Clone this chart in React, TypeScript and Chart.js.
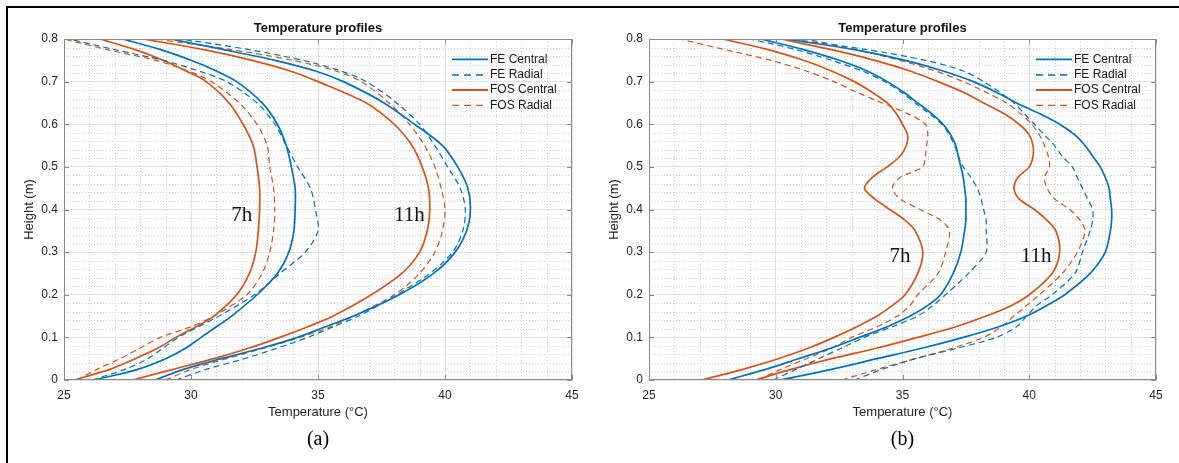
import { useEffect, useRef } from "react";
import { Chart, registerables } from "chart.js";

Chart.register(...registerables);

// ---- axes ----
const xTicks = [25, 30, 35, 40, 45];
const yTicks = [0, 0.1, 0.2, 0.3, 0.4, 0.5, 0.6, 0.7, 0.8];

// ---- legend / series styling ----
const seriesNames = ["FE Central", "FE Radial", "FOS Central", "FOS Radial"];
const BLUE = "#0072BD";
const ORANGE = "#D95319";
const seriesColors = [BLUE, BLUE, ORANGE, ORANGE];
const seriesDashed = [false, true, false, true];

// ---- (a) temperature profiles, height (m) -> temperature (°C) ----
const heightsA = [0, 0.025, 0.05, 0.075, 0.1, 0.125, 0.15, 0.2, 0.25, 0.3, 0.35, 0.4, 0.45, 0.5, 0.55, 0.6, 0.65, 0.7, 0.725, 0.75, 0.775, 0.8];
const aFeCentral7 = [26.2, 27.9, 29.0, 29.8, 30.4, 31.0, 31.6, 32.6, 33.4, 33.85, 34.05, 34.1, 34.1, 33.95, 33.75, 33.4, 32.8, 31.8, 31.0, 30.0, 28.8, 27.3];
const aFeRadial7 = [26.1, 27.4, 28.3, 28.9, 29.5, 30.3, 31.1, 32.5, 33.5, 34.5, 35.0, 34.9, 34.7, 34.2, 33.75, 33.3, 32.6, 31.4, 30.3, 28.9, 27.0, 25.2];
const aFosCentral7 = [25.4, 26.8, 27.8, 28.7, 29.4, 30.2, 30.9, 31.8, 32.3, 32.55, 32.65, 32.7, 32.7, 32.6, 32.45, 32.05, 31.5, 30.6, 29.8, 28.9, 27.8, 26.4];
const aFosRadial7 = [25.5, 26.3, 27.2, 28.0, 28.8, 30.0, 30.9, 32.2, 32.8, 33.1, 33.25, 33.3, 33.25, 33.1, 33.0, 32.6, 31.9, 30.8, 29.9, 28.6, 26.7, 25.0];
const aFeCentral11 = [28.6, 29.7, 31.2, 32.8, 34.2, 35.3, 36.4, 38.2, 39.55, 40.4, 40.85, 41.0, 40.9, 40.5, 39.9, 38.8, 37.6, 36.0, 34.9, 33.3, 31.3, 29.2];
const aFeRadial11 = [29.4, 30.6, 32.1, 33.4, 34.6, 35.6, 36.6, 38.1, 39.4, 40.3, 40.7, 40.8, 40.6, 40.1, 39.6, 39.0, 38.1, 36.9, 35.9, 34.4, 32.3, 29.6];
const aFosCentral11 = [27.7, 29.3, 30.9, 32.3, 33.5, 34.6, 35.6, 37.1, 38.3, 39.0, 39.3, 39.4, 39.35, 39.1, 38.7, 38.0, 36.9, 35.0, 33.9, 32.4, 30.5, 28.1];
const aFosRadial11 = [29.0, 30.0, 31.4, 32.9, 34.3, 35.5, 36.4, 38.0, 39.0, 39.6, 39.9, 40.0, 39.85, 39.6, 39.2, 38.6, 37.8, 36.7, 35.7, 34.0, 31.6, 28.6];

// ---- (b) temperature profiles ----
const heightsB = [0, 0.025, 0.05, 0.075, 0.1, 0.125, 0.15, 0.175, 0.2, 0.25, 0.3, 0.35, 0.375, 0.4, 0.425, 0.45, 0.475, 0.5, 0.525, 0.55, 0.575, 0.6, 0.625, 0.65, 0.675, 0.7, 0.725, 0.75, 0.775, 0.8];
const bFeCentral7 = [28.1, 29.6, 30.9, 32.2, 33.3, 34.4, 35.3, 36.0, 36.5, 37.0, 37.3, 37.45, 37.5, 37.5, 37.5, 37.45, 37.4, 37.3, 37.2, 37.1, 36.9, 36.6, 36.15, 35.6, 35.05, 34.4, 33.6, 32.5, 31.1, 29.4];
const bFeRadial7 = [29.9, 30.8, 31.7, 32.6, 33.5, 34.6, 35.6, 36.2, 36.7, 37.6, 38.3, 38.3, 38.3, 38.2, 38.1, 37.95, 37.7, 37.4, 37.2, 37.05, 36.85, 36.55, 36.05, 35.5, 34.95, 34.3, 33.4, 32.2, 30.8, 29.0];
const bFosCentral7 = [27.1, 28.7, 30.1, 31.3, 32.3, 33.2, 34.0, 34.6, 35.1, 35.6, 35.8, 35.5, 35.1, 34.5, 33.9, 33.5, 33.8, 34.4, 34.9, 35.15, 35.2, 35.0, 34.75, 34.4, 33.8, 33.1, 32.2, 31.1, 29.7, 27.9];
const bFosRadial7 = [29.3, 30.2, 31.2, 32.2, 33.0, 34.0, 34.8, 35.3, 35.6, 36.4, 36.7, 36.85, 36.5, 35.7, 34.9, 34.6, 34.9, 35.8, 35.9, 35.95, 36.0, 35.9, 35.2, 34.2, 33.2, 32.3, 31.2, 29.8, 28.0, 26.2];
const bFeCentral11 = [30.2, 32.2, 34.0, 35.8, 37.4, 38.8, 39.9, 40.7, 41.4, 42.4, 43.0, 43.2, 43.25, 43.25, 43.2, 43.15, 43.0, 42.8, 42.5, 42.2, 41.8, 41.2, 40.4, 39.5, 38.7, 37.8, 36.6, 35.1, 33.1, 30.4];
const bFeRadial11 = [33.1, 34.2, 35.5, 37.2, 38.7, 39.5, 39.9, 40.3, 40.9, 41.8, 42.1, 42.4, 42.5, 42.5, 42.3, 42.1, 41.9, 41.7, 41.3, 41.0, 40.6, 40.2, 39.8, 39.4, 38.85, 38.2, 37.4, 35.9, 33.6, 30.6];
const bFosCentral11 = [29.2, 30.6, 32.2, 34.0, 35.6, 37.1, 38.3, 39.3, 40.0, 40.9, 41.2, 41.05, 40.7, 40.2, 39.6, 39.4, 39.55, 40.0, 40.15, 40.15, 40.0, 39.6, 39.0, 38.2, 37.4, 36.4, 35.3, 33.9, 32.2, 30.2];
const bFosRadial11 = [32.6, 34.0, 35.5, 37.0, 38.2, 38.9, 39.4, 39.9, 40.4, 41.3, 41.9, 42.2, 42.0, 41.6, 41.0, 40.7, 40.6, 40.8, 40.75, 40.6, 40.4, 40.1, 39.65, 39.1, 38.3, 37.4, 36.3, 34.9, 33.2, 31.2];

const SANS = '"Liberation Sans", Arial, Helvetica, sans-serif';
const SERIF = '"Liberation Serif", "Times New Roman", serif';
const TEXT = "#262626";
const GRID = "#e2e2e2";
const MINOR = "#cfcfcf";
const BOX = "#8a8a8a";

type Note = { text: string; t: number; h: number };
type PanelSpec = {
  caption: string;
  heights: number[];
  profiles: number[][];
  notes: Note[];
};

const panelA: PanelSpec = {
  caption: "(a)",
  heights: heightsA,
  profiles: [aFeCentral7, aFeRadial7, aFosCentral7, aFosRadial7, aFeCentral11, aFeRadial11, aFosCentral11, aFosRadial11],
  notes: [
    { text: "7h", t: 32.0, h: 0.386 },
    { text: "11h", t: 38.6, h: 0.386 },
  ],
};

const panelB: PanelSpec = {
  caption: "(b)",
  heights: heightsB,
  profiles: [bFeCentral7, bFeRadial7, bFosCentral7, bFosRadial7, bFeCentral11, bFeRadial11, bFosCentral11, bFosRadial11],
  notes: [
    { text: "7h", t: 34.9, h: 0.29 },
    { text: "11h", t: 40.27, h: 0.29 },
  ],
};

function buildDatasets(p: PanelSpec) {
  return p.profiles.map((temps, i) => {
    const k = i % 4;
    return {
      label: `${seriesNames[k]} ${i < 4 ? "7h" : "11h"}`,
      data: temps.map((t, j) => ({ x: t, y: p.heights[j] })),
      showLine: true,
      borderColor: seriesColors[k],
      backgroundColor: seriesColors[k],
      borderWidth: seriesDashed[k] ? 1.2 : 1.7,
      borderDash: seriesDashed[k] ? [6, 4] : [],
      pointRadius: 0,
      tension: 0.3,
      fill: false,
    };
  });
}

function decorations(p: PanelSpec) {
  return {
    id: "decorations",
    beforeDatasetsDraw(chart: any) {
      const { ctx, chartArea: a, scales } = chart;
      const x = scales.x;
      const y = scales.y;
      ctx.save();
      ctx.strokeStyle = MINOR;
      ctx.lineWidth = 1;
      ctx.setLineDash([1, 2]);
      for (let t = 26; t < 45; t++) {
        if (t % 5 === 0) continue;
        const px = Math.round(x.getPixelForValue(t)) + 0.5;
        ctx.beginPath();
        ctx.moveTo(px, a.top);
        ctx.lineTo(px, a.bottom);
        ctx.stroke();
      }
      for (let k = 1; k < 40; k++) {
        if (k % 5 === 0) continue;
        const py = Math.round(y.getPixelForValue(k * 0.02)) + 0.5;
        ctx.beginPath();
        ctx.moveTo(a.left, py);
        ctx.lineTo(a.right, py);
        ctx.stroke();
      }
      ctx.restore();
    },
    afterDraw(chart: any) {
      const { ctx, chartArea: a, scales } = chart;
      const x = scales.x;
      const y = scales.y;
      ctx.save();

      // axes box with inward ticks
      ctx.strokeStyle = BOX;
      ctx.lineWidth = 1;
      ctx.setLineDash([]);
      ctx.strokeRect(Math.round(a.left) + 0.5, Math.round(a.top) + 0.5, Math.round(a.right - a.left) - 1, Math.round(a.bottom - a.top) - 1);
      ctx.beginPath();
      xTicks.forEach((v) => {
        const px = Math.round(x.getPixelForValue(v)) + 0.5;
        ctx.moveTo(px, a.bottom);
        ctx.lineTo(px, a.bottom - 5);
        ctx.moveTo(px, a.top);
        ctx.lineTo(px, a.top + 5);
      });
      yTicks.forEach((v) => {
        const py = Math.round(y.getPixelForValue(v)) + 0.5;
        ctx.moveTo(a.left, py);
        ctx.lineTo(a.left + 5, py);
        ctx.moveTo(a.right, py);
        ctx.lineTo(a.right - 5, py);
      });
      ctx.stroke();

      // legend
      ctx.font = `12px ${SANS}`;
      ctx.textAlign = "left";
      ctx.textBaseline = "middle";
      const rows = [20.3, 36, 51, 66.3];
      seriesNames.forEach((name, k) => {
        const ry = a.top + rows[k];
        ctx.strokeStyle = seriesColors[k];
        ctx.lineWidth = seriesDashed[k] ? 1.3 : 1.8;
        ctx.setLineDash(seriesDashed[k] ? [7, 5] : []);
        ctx.beginPath();
        ctx.moveTo(a.right - 120, ry);
        ctx.lineTo(a.right - 84, ry);
        ctx.stroke();
        ctx.fillStyle = "#1a1a1a";
        ctx.fillText(name, a.right - 82, ry);
      });
      ctx.setLineDash([]);

      // hour annotations
      ctx.font = `21px ${SERIF}`;
      ctx.fillStyle = "#111";
      ctx.textAlign = "center";
      ctx.textBaseline = "middle";
      p.notes.forEach((n) => {
        ctx.fillText(n.text, x.getPixelForValue(n.t), y.getPixelForValue(n.h));
      });

      const cx = (a.left + a.right) / 2;
      // title
      ctx.fillStyle = "#111";
      ctx.font = `bold 13px ${SANS}`;
      ctx.fillText("Temperature profiles", cx, 28);
      // axis titles
      ctx.fillStyle = TEXT;
      ctx.font = `13px ${SANS}`;
      ctx.fillText("Temperature (°C)", cx, 412);
      ctx.save();
      ctx.translate(a.left - 35, (a.top + a.bottom) / 2);
      ctx.rotate(-Math.PI / 2);
      ctx.fillText("Height (m)", 0, 0);
      ctx.restore();
      // caption
      ctx.fillStyle = "#000";
      ctx.font = `20px ${SERIF}`;
      ctx.fillText(p.caption, cx, 440);

      ctx.restore();
    },
  };
}

function Panel({ spec, left, width, padRight }: { spec: PanelSpec; left: number; width: number; padRight: number }) {
  const ref = useRef<HTMLCanvasElement | null>(null);
  useEffect(() => {
    if (!ref.current) return;
    const chart = new Chart(ref.current, {
      type: "scatter",
      data: { datasets: buildDatasets(spec) as any },
      options: {
        animation: false,
        responsive: false,
        events: [],
        layout: { padding: { top: 39, right: padRight, left: 0, bottom: 0 } },
        plugins: {
          legend: { display: false },
          title: { display: false },
          tooltip: { enabled: false },
        },
        scales: {
          x: {
            type: "linear",
            min: 25,
            max: 45,
            afterBuildTicks: (s: any) => {
              s.ticks = xTicks.map((v) => ({ value: v }));
            },
            afterFit: (s: any) => {
              s.height = 83;
            },
            grid: { color: GRID, drawTicks: false },
            border: { display: false },
            ticks: { padding: 8, color: TEXT, font: { family: SANS, size: 12 }, maxRotation: 0 },
          },
          y: {
            type: "linear",
            min: 0,
            max: 0.8,
            afterBuildTicks: (s: any) => {
              s.ticks = yTicks.map((v) => ({ value: v }));
            },
            afterFit: (s: any) => {
              s.width = 64;
            },
            grid: { color: GRID, drawTicks: false },
            border: { display: false },
            ticks: {
              padding: 6,
              color: TEXT,
              font: { family: SANS, size: 12 },
              callback: (v: any) => String(Number(Number(v).toFixed(1))),
            },
          },
        },
      },
      plugins: [decorations(spec)],
    });
    return () => chart.destroy();
  }, [spec, padRight]);
  return (
    <canvas
      ref={ref}
      width={width}
      height={463}
      style={{ position: "absolute", left, top: 0, width, height: 463, display: "block" }}
    />
  );
}

export default function App() {
  return (
    <div style={{ position: "absolute", left: 0, top: 0, width: 1179, height: 463, background: "#fff", overflow: "hidden" }}>
      <Panel spec={panelA} left={0} width={590} padRight={18} />
      <Panel spec={panelB} left={585} width={594} padRight={23} />
      <div
        style={{
          position: "absolute",
          left: 6,
          top: 6,
          width: 1173,
          height: 457,
          borderTop: "2px solid #000",
          borderLeft: "2px solid #000",
          boxSizing: "border-box",
        }}
      />
    </div>
  );
}
